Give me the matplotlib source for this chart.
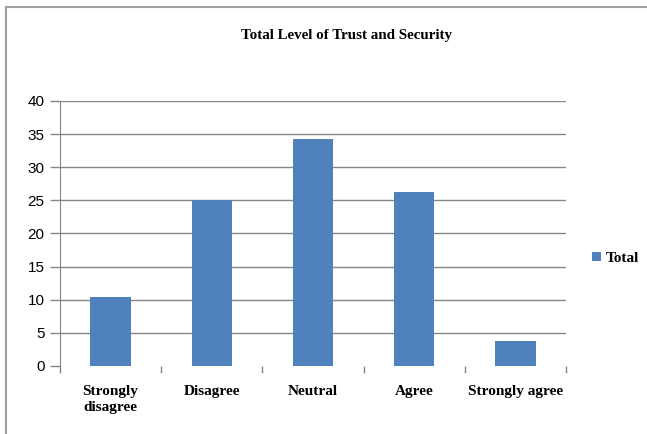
import matplotlib
matplotlib.use("Agg")
import matplotlib.pyplot as plt
from matplotlib.lines import Line2D
import numpy as np

categories = ["Strongly\ndisagree", "Disagree", "Neutral", "Agree", "Strongly agree"]
totals = [10.4, 25.1, 34.2, 26.3, 3.8]
yticks = [0, 5, 10, 15, 20, 25, 30, 35, 40]

serif = "Liberation Serif"
bar_color = "#4F81BD"
grid_color = "#868686"

fig = plt.figure(figsize=(6.47, 4.34), dpi=100)
ax = fig.add_axes([0.0927, 0.1567, 0.7821, 0.6106])

x = np.arange(len(categories))
ax.bar(x, totals, width=0.4, color=bar_color, label="Total", zorder=3)

ax.set_xlim(-0.5, len(categories) - 0.5)
ax.set_ylim(0, 40)
ax.set_yticks(yticks)
ax.set_yticklabels([str(v) for v in yticks], fontfamily="Liberation Sans", fontsize=11)

# gridlines (no line at zero)
for v in yticks[1:]:
    ax.axhline(v, color=grid_color, lw=1, zorder=1)

# category boundary ticks at the bottom
ax.set_xticks(np.arange(len(categories) + 1) - 0.5, minor=False)
ax.set_xticklabels([])
ax.tick_params(axis="x", length=5, color=grid_color, width=1)
for i, lab in enumerate(categories):
    ax.text(i, -2.9, lab, ha="center", va="top", fontfamily=serif,
            fontweight="bold", fontsize=11, linespacing=1.3)

ax.tick_params(axis="y", length=7, color=grid_color, width=1, pad=4)
for s in ["top", "right", "bottom"]:
    ax.spines[s].set_visible(False)
ax.spines["left"].set_color(grid_color)

fig.text(0.535, 0.918, "Total Level of Trust and Security", ha="center", va="center",
         fontfamily=serif, fontweight="bold", fontsize=10.8)

leg = ax.legend(loc="center left", bbox_to_anchor=(0.906, 0.405), bbox_transform=fig.transFigure,
                frameon=False, handlelength=0.6, handleheight=0.6, handletextpad=0.25,
                prop={"family": serif, "weight": "bold", "size": 11}, borderaxespad=0)

# outer frame (left and top edges only)
fig.add_artist(Line2D([6 / 647, 6 / 647], [0, 1 - 7 / 434], transform=fig.transFigure,
                      color="#A0A0A0", lw=1.5))
fig.add_artist(Line2D([6 / 647, 1], [1 - 7 / 434, 1 - 7 / 434], transform=fig.transFigure,
                      color="#A0A0A0", lw=1.5))

fig.savefig("out.png", dpi=100)
